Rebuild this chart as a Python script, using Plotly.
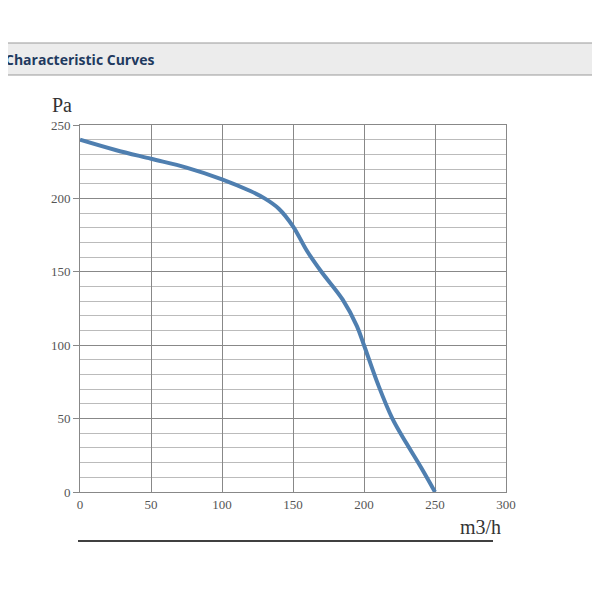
import plotly.graph_objects as go

flow = [0, 25, 50, 75, 100, 120, 130, 140, 150, 160, 170, 185, 195, 200, 210, 220, 230, 240, 250]
pressure = [240, 233, 227, 221, 213, 205, 200, 193, 181, 164, 150, 131, 113, 100, 73, 50, 33, 17, 0]
x_ticks = [0, 50, 100, 150, 200, 250, 300]
y_ticks = [0, 50, 100, 150, 200, 250]

OFF = 8
L, R, T, B = 80 - OFF, 506 - OFF, 125 - OFF, 492 - OFF
def px(x): return (x - OFF - L) / (R - L)
def py(y): return (B - (y - OFF)) / (B - T)

fig = go.Figure(go.Scatter(x=flow, y=pressure, mode="lines", line=dict(color="#4f7fb0", width=4, shape="spline"), hoverinfo="skip"))
tickfont = dict(family="Liberation Serif", size=13, color="#555")
fig.update_layout(
    width=600, height=600, paper_bgcolor="white", plot_bgcolor="white", showlegend=False,
    margin=dict(l=L, r=600 - R, t=T, b=600 - B),
    xaxis=dict(range=[0, 300], tickvals=x_ticks, showgrid=True, gridcolor="#888", gridwidth=1,
               zeroline=False, showline=True, mirror=True, linecolor="#888", tickfont=tickfont, ticks="", ticklen=0),
    yaxis=dict(range=[0, 250], tickvals=y_ticks, showgrid=True, gridcolor="#888", gridwidth=1,
               minor=dict(dtick=10, showgrid=True, gridcolor="#bbb", gridwidth=1),
               zeroline=False, showline=True, mirror=True, linecolor="#888", tickfont=tickfont, ticks="outside", ticklen=6, tickcolor="#888"),
    shapes=[
        dict(type="rect", xref="paper", yref="paper", x0=px(0), x1=px(600), y0=py(75), y1=py(43),
             fillcolor="#ececec", line=dict(color="#999", width=1), layer="below"),
        dict(type="line", xref="paper", yref="paper", x0=px(78), x1=px(493), y0=py(541), y1=py(541),
             line=dict(color="black", width=1.5)),
        dict(type="line", xref="paper", yref="paper", x0=px(598), x1=px(598), y0=py(75), y1=py(555),
             line=dict(color="#777", width=1)),
    ],
    annotations=[
        dict(text="<b>Characteristic Curves</b>", xref="paper", yref="paper", x=px(3), y=py(59),
             xanchor="left", yanchor="middle", showarrow=False,
             font=dict(family="Open Sans", size=14, color="#1f3a5f")),
        dict(text="Pa", xref="paper", yref="paper", x=px(50), y=py(105), xanchor="left", yanchor="middle",
             showarrow=False, font=dict(family="Liberation Serif", size=20, color="#333")),
        dict(text="m3/h", xref="paper", yref="paper", x=px(503), y=py(527), xanchor="right", yanchor="middle",
             showarrow=False, font=dict(family="Liberation Serif", size=20, color="#333")),
    ],
)
fig.write_html("out.html")
